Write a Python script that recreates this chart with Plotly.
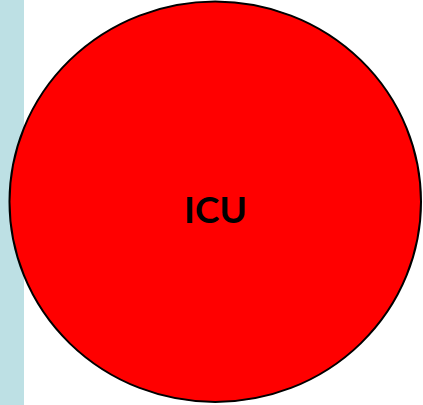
import plotly.graph_objects as go

# Data
labels = ["ICU"]
label_x = [215.5]
label_y = [214]

W, H = 423, 405

fig = go.Figure()

fig.add_trace(go.Scatter(
    x=label_x, y=label_y, mode="text", text=labels,
    textfont=dict(family="Lato", size=37, color="#000000", weight="bold"),
    textposition="middle center", hoverinfo="skip", showlegend=False,
))

fig.update_layout(
    width=W, height=H,
    margin=dict(l=0, r=0, t=0, b=0),
    paper_bgcolor="#FFFFFF", plot_bgcolor="#FFFFFF",
    xaxis=dict(range=[0, W], visible=False, fixedrange=True),
    yaxis=dict(range=[H, 0], visible=False, fixedrange=True),
    shapes=[
        dict(type="rect", xref="x", yref="y", x0=0, x1=24, y0=0, y1=H,
             fillcolor="#BDE0E4", line=dict(width=0), layer="below"),
        dict(type="circle", xref="x", yref="y", x0=9.5, x1=421, y0=1.5, y1=402,
             fillcolor="#FF0000", line=dict(color="#000000", width=2), layer="below"),
    ],
)

fig.write_html(
    "out.html",
    config={"displayModeBar": False},
    post_script="document.body.style.margin='0';document.body.style.overflow='hidden';",
)
